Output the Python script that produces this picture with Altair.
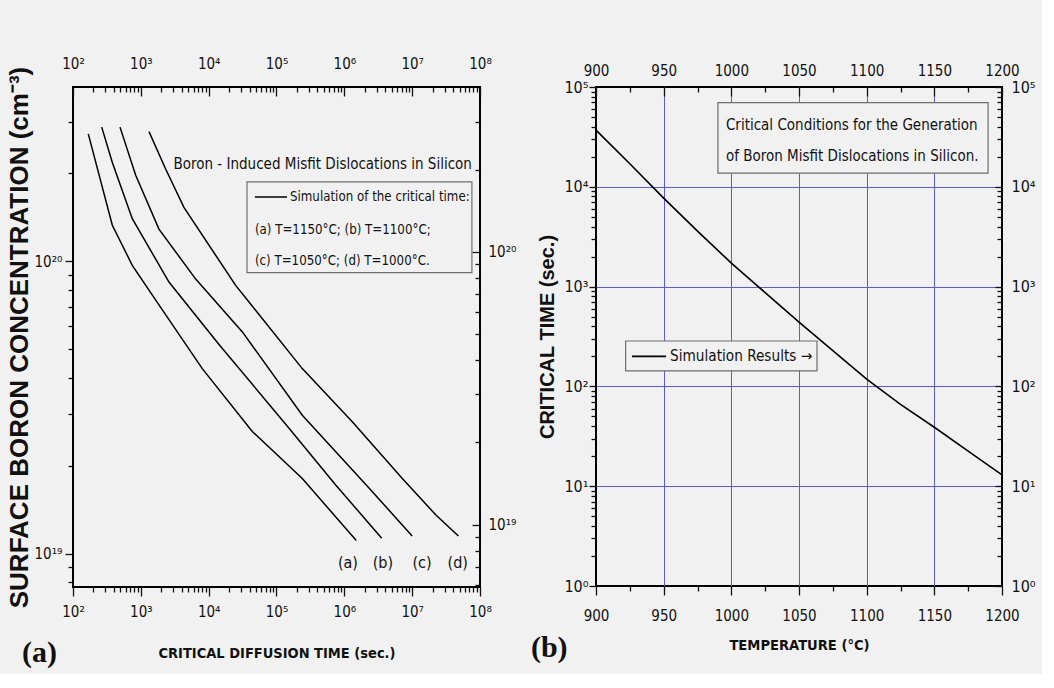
import math

import altair as alt
import pandas as pd

# ---------------- panel (a): critical diffusion time vs. surface concentration
time_a = [168, 204, 380, 748, 1850, 8050, 44000, 240000, 1.5e6]
conc_a = [2.73e20, 2.30e20, 1.33e20, 9.7e19, 7.1e19, 4.3e19, 2.62e19, 1.81e19, 1.11e19]
time_b = [265, 380, 748, 2600, 14200, 153000, 746000, 3.56e6]
conc_b = [2.88e20, 2.18e20, 1.40e20, 8.5e19, 5.2e19, 2.69e19, 1.72e19, 1.13e19]
time_c = [493, 840, 1850, 6440, 31400, 240000, 2.31e6, 1.0e7]
conc_c = [2.88e20, 1.97e20, 1.29e20, 8.7e19, 5.74e19, 2.98e19, 1.68e19, 1.15e19]
time_d = [1320, 2320, 4320, 25000, 240000, 1.31e6, 7.16e6, 2.22e7, 4.8e7]
conc_d = [2.78e20, 2.07e20, 1.53e20, 8.28e19, 4.3e19, 2.83e19, 1.81e19, 1.36e19, 1.15e19]
curve_names = ["(a)", "(b)", "(c)", "(d)"]

# ---------------- panel (b): critical time vs. temperature
temperature = [900, 925, 950, 975, 1000, 1025, 1050, 1075, 1100, 1125, 1150, 1175, 1200]
critical_time = [3.7e4, 1.7e4, 7.7e3, 3.6e3, 1.72e3, 870, 440, 228, 118, 66, 39, 22.5, 13]

# axis ranges
T_DOMAIN = [1e2, 1e8]
C_DOMAIN = [7.7e18, 3.95e20]          # left concentration axis
C_DOMAIN_RIGHT = [5.9e18, 4.02e20]    # right concentration axis (own range)
TEMP_DOMAIN = [900, 1200]
TIME_DOMAIN = [1, 1e5]

COND = "'DejaVu Sans Condensed', 'Liberation Sans Narrow', 'Arial Narrow', sans-serif"
BOLD = "'Liberation Sans', Arial, sans-serif"
SERIF = "'Liberation Serif', 'Times New Roman', serif"
INK = "#111111"
GRID = "#5b5bd9"
PANEL_BG = "#f1f1f1"

# log-axis helpers: minor ticks at 2..9, labels only on the decades
MAJ = "abs(log(datum.value)/LN10 - round(log(datum.value)/LN10)) < 0.001"
EXP = "round(log(datum.value)/LN10)"
SUP_CHARS = ["\u2070", "\u00b9", "\u00b2", "\u00b3", "\u2074", "\u2075", "\u2076", "\u2077", "\u2078", "\u2079"]
SUP = "[" + ",".join(f"'{s}'" for s in SUP_CHARS) + "]"
POW_LABEL = f"({MAJ}) ? '10' + ({EXP} >= 10 ? {SUP}[floor({EXP}/10)] : '') + {SUP}[{EXP} % 10] : ''"


def pow_text(exp):
    return "10" + "".join(SUP_CHARS[int(d)] for d in str(exp))


def cond(test, yes, no):
    return {"condition": {"test": test, "value": yes}, "value": no}


def log_ticks(lo_exp, hi_exp, lo=None, hi=None):
    vals = [float(m) * 10.0 ** k for k in range(lo_exp, hi_exp) for m in range(1, 10)]
    vals.append(10.0 ** hi_exp)
    if lo is not None:
        vals = [v for v in vals if v >= lo]
    if hi is not None:
        vals = [v for v in vals if v <= hi]
    return vals


def axis(**kw):
    base = dict(domain=False, grid=False, labelOverlap=False, labelFlush=False, labelBound=False,
                labelColor=INK, tickColor=INK, tickWidth=1.3, titleColor=INK)
    base.update(kw)
    return alt.Axis(**base)


# ================= panel (a) =================
curves = pd.concat([
    pd.DataFrame({"t": tt, "c": cc, "curve": name})
    for tt, cc, name in zip([time_a, time_b, time_c, time_d],
                            [conc_a, conc_b, conc_c, conc_d], curve_names)
])


def xa(ax=None):
    return alt.X("t:Q", scale=alt.Scale(type="log", domain=T_DOMAIN, nice=False), axis=ax)


def ya(ax=None):
    return alt.Y("c:Q", scale=alt.Scale(type="log", domain=C_DOMAIN, nice=False), axis=ax)


t_ticks = log_ticks(2, 8)
c_ticks = log_ticks(18, 21, C_DOMAIN[0], C_DOMAIN[1])

# the right-hand concentration axis has its own range: place its ticks on the
# left scale at the matching heights
L0, L1 = (math.log10(v) for v in C_DOMAIN)
R0, R1 = (math.log10(v) for v in C_DOMAIN_RIGHT)


def to_left(v):
    return 10 ** (L0 + (math.log10(v) - R0) * (L1 - L0) / (R1 - R0))


c_right_true = log_ticks(18, 21, C_DOMAIN_RIGHT[0], 3.5e20)
c_right_pos = [to_left(v) for v in c_right_true]
right_major = {to_left(1e19): 19, to_left(1e20): 20}
RIGHT_MAJ = " || ".join(f"abs(datum.value/{p!r} - 1) < 1e-6" for p in right_major)
RIGHT_LABEL = " : ".join(f"abs(datum.value/{p!r} - 1) < 1e-6 ? '{pow_text(e)}'"
                         for p, e in right_major.items()) + " : ''"

ax_a_bottom = axis(orient="bottom", values=t_ticks, labelExpr=POW_LABEL, tickSize=cond(MAJ, 9, 5),
                   labelPadding=8, labelFont=COND, labelFontSize=15,
                   title="CRITICAL DIFFUSION TIME (sec.)", titleFont=COND, titleFontWeight="bold",
                   titleFontSize=14.5, titlePadding=27)
ax_a_left = axis(orient="left", values=c_ticks, labelExpr=POW_LABEL, tickSize=cond(MAJ, 8, 5),
                 labelPadding=3, labelFont=COND, labelFontSize=15,
                 title="SURFACE BORON CONCENTRATION (cm\u207b\u00b3)", titleFont=BOLD,
                 titleFontWeight="bold", titleFontSize=26, titlePadding=2)
ax_a_top = axis(orient="top", values=t_ticks, labelExpr=POW_LABEL, tickSize=cond(MAJ, -9, -5),
                labelPadding=25, labelFont=COND, labelFontSize=15, title=None)
ax_a_right = axis(orient="right", values=c_right_pos, labelExpr=RIGHT_LABEL,
                  tickSize=cond(RIGHT_MAJ, -8, -5), labelPadding=16, labelFont=COND,
                  labelFontSize=15, title=None)

lines_a = alt.Chart(curves).mark_line(color="black", strokeWidth=1.5).encode(
    x=xa(ax_a_bottom), y=ya(ax_a_left), detail="curve:N")
frame_a = alt.Chart(curves).mark_point(opacity=0).encode(x=xa(ax_a_top), y=ya(ax_a_right))

# annotation anchors (data coordinates)
note_a = pd.DataFrame({"t": [7.6e7], "c": [2.15e20],
                       "text": ["Boron - Induced Misfit Dislocations in Silicon"]})
box_a = pd.DataFrame({"t": [3.67e4], "t2": [7.6e7], "c": [1.87e20], "c2": [9.15e19]})
key_line_a = pd.DataFrame({"t": [4.8e4, 1.43e5], "c": [1.66e20, 1.66e20]})
key_text_a = pd.DataFrame({
    "t": [1.58e5, 4.8e4, 4.8e4],
    "c": [1.66e20, 1.28e20, 1.0e20],
    "text": ["Simulation of the critical time:",
             "(a) T=1150\u00b0C; (b) T=1100\u00b0C;",
             "(c) T=1050\u00b0C; (d) T=1000\u00b0C."],
})
curve_tags = pd.DataFrame({"t": [1.13e6, 3.7e6, 1.4e7, 4.7e7], "c": [9.3e18] * 4, "text": curve_names})

title_a = alt.Chart(note_a).mark_text(align="right", baseline="middle", font=COND, fontSize=15,
                                      color=INK).encode(x=xa(), y=ya(), text="text:N")
rect_a = alt.Chart(box_a).mark_rect(fill=PANEL_BG, stroke="#6e6e6e", strokeWidth=1.2).encode(
    x=xa(), x2="t2:Q", y=ya(), y2="c2:Q")
keyl_a = alt.Chart(key_line_a).mark_line(color="black", strokeWidth=1.5).encode(x=xa(), y=ya())
keyt_a = alt.Chart(key_text_a).mark_text(align="left", baseline="middle", font=COND, fontSize=13.2,
                                         color=INK).encode(x=xa(), y=ya(), text="text:N")
tags_a = alt.Chart(curve_tags).mark_text(align="center", baseline="middle", font=COND, fontSize=16,
                                         color=INK).encode(x=xa(), y=ya(), text="text:N")

panel_a = alt.layer(lines_a, frame_a, title_a, rect_a, keyl_a, keyt_a, tags_a).resolve_axis(
    x="independent", y="independent").properties(
    width=407, height=500,
    title=alt.TitleParams("(a)", orient="bottom", anchor="start", font=SERIF, fontSize=30,
                          fontWeight="bold", color=INK, dy=-26, dx=16))

# ================= panel (b) =================
sim = pd.DataFrame({"temp": temperature, "time": critical_time})


def xb(ax=None):
    return alt.X("temp:Q", scale=alt.Scale(domain=TEMP_DOMAIN, nice=False, zero=False), axis=ax)


def yb(ax=None):
    return alt.Y("time:Q", scale=alt.Scale(type="log", domain=TIME_DOMAIN, nice=False), axis=ax)


temp_ticks = list(range(900, 1201, 25))
time_ticks = log_ticks(0, 5)
FIFTY = "datum.value % 50 == 0"

ax_b_bottom = axis(orient="bottom", values=temp_ticks, format="d",
                   labelExpr=f"{FIFTY} ? datum.label : ''", tickSize=cond(FIFTY, 9, 5),
                   labelPadding=13, labelFont=COND, labelFontSize=15,
                   grid=True, gridColor=GRID, gridWidth=1,
                   gridOpacity=cond(f"{FIFTY} && datum.value > 900 && datum.value < 1200", 1, 0),
                   title="TEMPERATURE (\u00b0C)", titleFont=COND, titleFontWeight="bold",
                   titleFontSize=14.6, titlePadding=14)
ax_b_left = axis(orient="left", values=time_ticks, labelExpr=POW_LABEL, tickSize=cond(MAJ, 7, 5),
                 labelPadding=1, labelFont=COND, labelFontSize=16,
                 grid=True, gridColor=GRID, gridWidth=1,
                 gridOpacity=cond(f"({MAJ}) && datum.value > 2 && datum.value < 50000", 1, 0),
                 title="CRITICAL  TIME (sec.)", titleFont=BOLD, titleFontWeight="bold",
                 titleFontSize=20, titlePadding=6)
ax_b_top = axis(orient="top", values=temp_ticks, format="d",
                labelExpr=f"{FIFTY} ? datum.label : ''", tickSize=cond(FIFTY, -9, -5),
                labelPadding=18, labelFont=COND, labelFontSize=15, title=None)
ax_b_right = axis(orient="right", values=time_ticks, labelExpr=POW_LABEL, tickSize=cond(MAJ, -7, -5),
                  labelPadding=16, labelFont=COND, labelFontSize=16, title=None)

line_b = alt.Chart(sim).mark_line(color="black", strokeWidth=1.6).encode(x=xb(ax_b_bottom), y=yb(ax_b_left))
frame_b = alt.Chart(sim).mark_point(opacity=0).encode(x=xb(ax_b_top), y=yb(ax_b_right))

box_b1 = pd.DataFrame({"temp": [990.1], "temp2": [1189.7], "time": [6.97e4], "time2": [1.37e4]})
text_b1 = pd.DataFrame({"temp": [996, 996], "time": [4.16e4, 2.03e4],
                        "text": ["Critical Conditions for the Generation",
                                 "of Boron Misfit Dislocations in Silicon."]})
box_b2 = pd.DataFrame({"temp": [921.9], "temp2": [1063.3], "time": [285], "time2": [143]})
key_line_b = pd.DataFrame({"temp": [926.6, 951.7], "time": [200, 200]})
key_text_b = pd.DataFrame({"temp": [954.7], "time": [200], "text": ["Simulation Results \u2192"]})

rect_b1 = alt.Chart(box_b1).mark_rect(fill=PANEL_BG, stroke="#6e6e6e", strokeWidth=1.2).encode(
    x=xb(), x2="temp2:Q", y=yb(), y2="time2:Q")
txt_b1 = alt.Chart(text_b1).mark_text(align="left", baseline="middle", font=COND, fontSize=15,
                                      color=INK).encode(x=xb(), y=yb(), text="text:N")
rect_b2 = alt.Chart(box_b2).mark_rect(fill=PANEL_BG, stroke="#6e6e6e", strokeWidth=1.2).encode(
    x=xb(), x2="temp2:Q", y=yb(), y2="time2:Q")
keyl_b = alt.Chart(key_line_b).mark_line(color="black", strokeWidth=1.6).encode(x=xb(), y=yb())
keyt_b = alt.Chart(key_text_b).mark_text(align="left", baseline="middle", font=COND, fontSize=15.2,
                                         color=INK).encode(x=xb(), y=yb(), text="text:N")

panel_b = alt.layer(rect_b1, txt_b1, rect_b2, keyl_b, keyt_b, line_b, frame_b).resolve_axis(
    x="independent", y="independent").properties(
    width=406, height=499,
    title=alt.TitleParams("(b)", orient="bottom", anchor="start", font=SERIF, fontSize=30,
                          fontWeight="bold", color=INK, dy=-23, dx=-7))

chart = alt.hconcat(panel_a, panel_b, spacing=12).configure(
    background=PANEL_BG,
    padding={"left": 5, "top": 51, "right": 5, "bottom": 5},
).configure_view(stroke="black", strokeWidth=2)

chart.save("out.html", embed_options={"renderer": "svg", "actions": False})
